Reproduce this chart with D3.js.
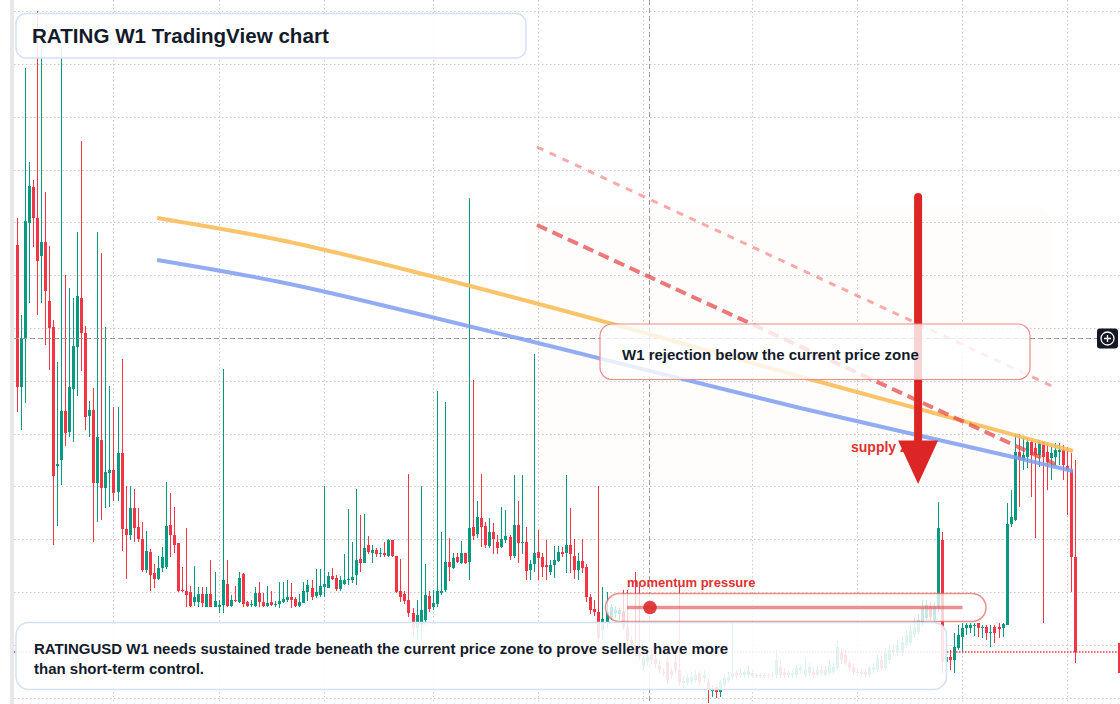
<!DOCTYPE html>
<html>
<head>
<meta charset="utf-8">
<script src="https://cdn.jsdelivr.net/npm/d3@7"></script>
<style>
  body { margin: 0; background: #fff; }
  svg  { display: block; }
</style>
</head>
<body>
<svg id="chart" width="1120" height="704"></svg>
<script>
// RATINGUSD weekly candles with the annotation layer of a TradingView screenshot.
// Prices are in chart units (the reference prints no price axis); one bar = one week.

// [open, high, low, close] per weekly bar, oldest first.
const ohlc = [
  [459,486,292,317],[317,389,274,366],[366,636,301,483],[481,542,401,518],[517,524,457,486],[486,693,389,443],[448,659,401,462],[462,512,359,413],
  [403,458,334,376],[377,384,159,228],[238,342,178,240],[244,657,219,293],[293,429,258,271],[272,416,267,317],[315,406,262,358],[357,472,308,408],
  [406,563,333,371],[371,378,274,287],[288,303,267,294],[294,316,162,221],[221,472,182,267],[264,451,184,216],[216,377,196,232],[231,318,197,234],
  [234,297,203,211],[212,297,203,251],[251,345,153,175],[175,218,125,169],[169,218,164,196],[196,215,162,176],[177,196,162,165],[165,182,132,134],
  [134,173,131,153],[152,155,113,129],[131,140,116,125],[125,148,124,136],[136,157,132,147],[137,222,135,178],[179,211,147,169],[169,197,151,159],
  [161,161,112,113],[114,137,112,113],[113,176,97,109],[112,118,97,98],[102,138,98,107],[102,117,97,110],[110,117,97,101],[97,117,97,110],
  [110,144,97,97],[97,132,97,103],[97,104,91,99],[99,335,91,124],[120,144,97,98],[98,109,97,104],[104,118,102,103],[102,132,101,126],
  [130,131,97,100],[102,103,97,98],[99,104,97,100],[98,117,97,111],[111,122,97,102],[102,111,97,98],[98,118,97,101],[102,113,98,99],
  [99,103,97,100],[100,122,96,103],[102,122,101,105],[104,124,102,107],[107,121,96,104],[105,107,97,98],[98,110,97,102],[101,122,101,113],
  [112,124,103,119],[116,124,104,107],[108,135,106,112],[109,135,107,118],[117,218,107,120],[116,132,116,128],[128,136,124,125],[126,129,113,115],
  [115,128,113,124],[120,150,119,124],[124,195,119,125],[124,162,121,127],[129,215,119,144],[145,189,132,141],[141,190,141,156],[159,168,150,152],
  [151,159,141,154],[154,156,147,150],[150,156,147,151],[151,162,147,149],[148,165,147,164],[164,164,147,148],[148,148,111,112],[113,145,102,107],
  [110,113,100,103],[104,230,87,91],[91,96,68,76],[76,104,64,89],[79,218,64,94],[84,140,79,109],[108,113,92,95],[97,114,94,101],
  [100,313,97,113],[111,172,109,113],[114,302,112,142],[142,166,123,137],[136,151,135,146],[147,151,141,142],[141,163,140,151],[151,151,140,141],
  [142,506,124,176],[177,324,164,168],[170,203,166,187],[186,230,157,177],[178,182,156,159],[158,186,156,172],[172,181,150,165],[162,169,150,156],
  [157,197,156,165],[164,194,161,168],[167,169,144,148],[148,229,146,179],[179,203,141,161],[161,229,150,162],[162,177,124,133],[134,144,124,140],
  [140,350,132,151],[152,174,124,146],[147,151,127,137],[139,164,124,137],[132,144,129,139],[139,158,126,144],[143,158,142,152],[152,157,147,150],
  [151,229,131,159],[159,196,131,150],[148,165,125,134],[134,151,124,143],[143,165,131,136],[137,140,102,107],[107,110,90,94],[95,104,88,92],
  [92,218,62,66],[74,117,64,85],[82,112,76,92],[87,100,84,97],[91,98,86,94],[90,97,84,94],[93,114,74,77],[77,114,59,64],
  [64,68,54,59],[59,132,48,52],[54,119,44,48],[38,52,34,46],[42,54,38,47],[50,56,40,44],[45,49,36,40],[39,44,30,34],
  [31,36,28,32],[42,54,20,24],[33,36,25,29],[42,49,31,34],[34,119,18,22],[21,28,16,23],[21,30,18,26],[22,32,20,27],
  [24,34,21,29],[31,34,18,22],[26,34,22,29],[22,26,1,14],[13,19,7,15],[17,20,6,12],[12,24,7,22],[19,30,17,26],
  [24,32,21,27],[27,81,24,31],[31,34,25,28],[29,36,26,31],[29,35,26,32],[29,38,26,34],[31,34,26,28],[28,31,26,29],
  [29,31,26,28],[28,31,26,29],[29,31,26,28],[28,32,26,29],[29,54,26,44],[37,44,26,29],[32,36,26,29],[29,34,26,31],
  [29,35,26,31],[29,39,26,36],[34,39,30,36],[29,46,27,34],[31,41,28,37],[32,36,26,29],[29,38,27,34],[34,38,28,31],
  [29,38,27,34],[31,44,29,39],[32,42,30,37],[36,64,34,57],[51,56,40,44],[49,54,38,41],[41,44,33,36],[37,41,29,32],
  [32,36,28,31],[32,35,27,30],[32,35,26,29],[29,39,27,36],[34,41,31,37],[34,50,32,46],[44,49,33,36],[36,56,34,51],
  [44,59,41,54],[51,60,48,54],[51,64,48,59],[51,68,48,62],[59,74,56,69],[61,80,58,74],[69,86,66,77],[72,90,69,84],
  [82,104,78,96],[86,104,84,99],[97,102,84,87],[84,101,81,97],[96,202,92,176],[164,172,31,42],[42,59,31,47],[47,54,34,44],
  [44,71,31,57],[56,79,54,69],[67,81,52,76],[76,81,69,79],[76,81,71,79],[78,81,68,79],[81,81,67,76],[76,79,66,77],
  [77,79,64,71],[71,79,57,72],[77,79,61,71],[77,81,66,75],[76,81,67,80],[79,201,79,180],[180,214,177,187],[184,270,183,252],
  [252,270,197,244],[244,266,234,249],[247,266,236,262],[262,264,207,249],[256,261,166,249],[249,264,237,262],[262,262,81,247],[252,261,214,242],
  [246,257,224,251],[247,261,239,254],[252,261,239,254],[254,259,224,239],[238,257,189,234],[234,251,112,147],[147,244,41,52]
];

// Time grid (bar index of each half-year line) and price grid levels.
const gridBars   = [24, 50, 76, 103, 129, 155, 182, 208, 234, 260];
const gridPrices = [693, 640, 587, 534, 482, 429, 376, 323, 270, 218, 165, 112, 59, 6];

// Two moving-average style curves, as [bar, price].
const maOrange = [[34.8,486],[65.2,464],[102.6,428],[132,397],[197.1,324],[261.4,253]];
const maBlue   = [[34.8,444],[65.2,422],[102.6,387],[132,358],[193.9,296],[246.6,247],[261.4,233]];

// Dashed descending rejection lines, as [bar, price].
const rejectUpper = [[128.8,557],[256.2,318]];
const rejectLower = [[128.8,479],[257,240]];

// Supply zone box: [barFrom, barTo], [priceLow, priceHigh].
const zoneBars   = [126.3, 256.2];
const zonePrices = [224, 497];

// Downward arrow: bar, shaft top price, head base price, tip price.
const arrowBar    = 223.1;
const arrowPrices = [507, 263.5, 220];

// Crosshair position.
const crossBar   = 156.6;
const crossPrice = 366;

const title     = "RATING W1 TradingView chart";
const noteLines = ["RATINGUSD W1 needs sustained trade beneath the current price zone to prove sellers have more",
                   "than short-term control."];
const calloutText  = "W1 rejection below the current price zone";
const momentumText = "momentum pressure";
const supplyText   = "supply zone";

// ---------------------------------------------------------------------------
const W = 1120, H = 704;
const UP = "#089981", DOWN = "#f23645";
const FONT = "'Liberation Sans', Arial, Helvetica, sans-serif";
const INK = "#131b2b";

const svg = d3.select("#chart");
const x = d3.scaleLinear().domain([0, ohlc.length - 1]).range([16.5, 1075.3]);
const y = d3.scaleLinear().domain([0, 704]).range([704, 0]);

svg.append("rect").attr("width", W).attr("height", H).attr("fill", "#fff");
svg.append("rect").attr("x", 10).attr("y", 0).attr("width", 4).attr("height", H).attr("fill", "#e8e8e8");

// 1. Dotted grid.
const grid = svg.append("g").attr("stroke", "#cdcdcd").attr("stroke-width", 1).attr("stroke-dasharray", "1.5 2.5");
grid.selectAll(null).data(gridBars).join("line")
  .attr("x1", d => Math.round(x(d)) + 0.5).attr("x2", d => Math.round(x(d)) + 0.5)
  .attr("y1", 0).attr("y2", H);
grid.selectAll(null).data(gridPrices).join("line")
  .attr("x1", 14).attr("x2", W)
  .attr("y1", d => Math.round(y(d)) + 0.5).attr("y2", d => Math.round(y(d)) + 0.5);

// 2. Supply zone shading (barely tinted, as in the reference).
svg.append("rect")
  .attr("x", x(zoneBars[0])).attr("y", y(zonePrices[1]))
  .attr("width", x(zoneBars[1]) - x(zoneBars[0]))
  .attr("height", y(zonePrices[0]) - y(zonePrices[1]))
  .attr("rx", 16)
  .attr("fill", "rgb(240,150,90)").attr("fill-opacity", 0.018);

// 3. Candles.
const candles = ohlc.map(([o, h, l, c], i) => ({
  i, o, c, h: Math.max(h, o, c), l: Math.min(l, o, c), up: c >= o
}));
const cg = svg.append("g");
cg.selectAll("line").data(candles).join("line")
  .attr("x1", d => Math.round(x(d.i)) + 0.5).attr("x2", d => Math.round(x(d.i)) + 0.5)
  .attr("y1", d => y(d.h)).attr("y2", d => y(d.l))
  .attr("stroke", d => d.up ? UP : DOWN).attr("stroke-width", 1);
cg.selectAll("rect").data(candles).join("rect")
  .attr("x", d => Math.round(x(d.i)) - 1)
  .attr("width", 3)
  .attr("y", d => y(Math.max(d.o, d.c)))
  .attr("height", d => Math.max(1, Math.abs(y(d.o) - y(d.c))))
  .attr("fill", d => d.up ? UP : DOWN);

// 4. Last price line.
const last = candles[candles.length - 1].c;
svg.append("line")
  .attr("x1", 14).attr("x2", W).attr("y1", y(last)).attr("y2", y(last))
  .attr("stroke", DOWN).attr("stroke-width", 1.5).attr("stroke-dasharray", "1.5 1.5");

// 5. Crosshair.
const ch = svg.append("g").attr("stroke", "#9a9a9a").attr("stroke-width", 1).attr("stroke-dasharray", "5 3");
ch.append("line").attr("x1", Math.round(x(crossBar)) + 0.5).attr("x2", Math.round(x(crossBar)) + 0.5)
  .attr("y1", 0).attr("y2", H);
ch.append("line").attr("x1", 14).attr("x2", 1097)
  .attr("y1", Math.round(y(crossPrice)) + 0.5).attr("y2", Math.round(y(crossPrice)) + 0.5);

// 6. Moving-average curves.
const curve = d3.line().x(d => x(d[0])).y(d => y(d[1])).curve(d3.curveMonotoneX);
svg.append("path").attr("d", curve(maOrange)).attr("fill", "none")
  .attr("stroke", "#fbbd5a").attr("stroke-opacity", 0.9).attr("stroke-width", 4);
svg.append("path").attr("d", curve(maBlue)).attr("fill", "none")
  .attr("stroke", "#7f9ef2").attr("stroke-opacity", 0.85).attr("stroke-width", 4);

// 7. Dashed rejection lines.
const straight = d3.line().x(d => x(d[0])).y(d => y(d[1]));
svg.append("path").attr("d", straight(rejectUpper)).attr("fill", "none")
  .attr("stroke", "#ef4444").attr("stroke-opacity", 0.45).attr("stroke-width", 3)
  .attr("stroke-dasharray", "7 7");
svg.append("path").attr("d", straight(rejectLower)).attr("fill", "none")
  .attr("stroke", "#e53e3e").attr("stroke-opacity", 0.7).attr("stroke-width", 4)
  .attr("stroke-dasharray", "11 6");

// 8. Supply zone label, then the arrow drawn over it.
svg.append("text").attr("x", 851).attr("y", 452)
  .attr("font-family", FONT).attr("font-weight", 700).attr("font-size", 14)
  .attr("fill", "#e03131").text(supplyText);

const ax = x(arrowBar);
svg.append("line")
  .attr("x1", ax).attr("x2", ax).attr("y1", y(arrowPrices[0])).attr("y2", y(arrowPrices[1]) + 2)
  .attr("stroke", "#dc2626").attr("stroke-width", 8).attr("stroke-linecap", "round");
svg.append("polygon")
  .attr("points", [[ax - 20, y(arrowPrices[1])], [ax + 20, y(arrowPrices[1])], [ax, y(arrowPrices[2])]].join(" "))
  .attr("fill", "#dc2626");

// 9. Rejection callout box.
svg.append("rect").attr("x", 600).attr("y", 324).attr("width", 430).attr("height", 55.5).attr("rx", 12)
  .attr("fill", "#fff").attr("fill-opacity", 0.8)
  .attr("stroke", "#ee8a8a").attr("stroke-width", 1.2);
svg.append("text").attr("x", 622).attr("y", 359.5)
  .attr("font-family", FONT).attr("font-weight", 700).attr("font-size", 15)
  .attr("fill", INK).text(calloutText);

// 10. Momentum pressure pill.
svg.append("text").attr("x", 627).attr("y", 587)
  .attr("font-family", FONT).attr("font-weight", 700).attr("font-size", 13)
  .attr("fill", "#e03131").text(momentumText);
svg.append("rect").attr("x", 605.5).attr("y", 593.5).attr("width", 380.5).attr("height", 28).attr("rx", 14)
  .attr("fill", "#fff").attr("fill-opacity", 0.78)
  .attr("stroke", "#e55b5b").attr("stroke-opacity", 0.7).attr("stroke-width", 1.5);
svg.append("line").attr("x1", 627).attr("x2", 962.5).attr("y1", 607.5).attr("y2", 607.5)
  .attr("stroke", "#e04848").attr("stroke-opacity", 0.6).attr("stroke-width", 3.5);
svg.append("circle").attr("cx", 650).attr("cy", 607.5).attr("r", 6.8)
  .attr("fill", "#dc2f2f").attr("fill-opacity", 0.92);

// 11. Bottom note.
svg.append("rect").attr("x", 16).attr("y", 622.5).attr("width", 930.5).attr("height", 67).attr("rx", 13)
  .attr("fill", "#fff").attr("fill-opacity", 0.88)
  .attr("stroke", "#d3e1f5").attr("stroke-width", 1.5);
svg.append("text")
  .attr("font-family", FONT).attr("font-weight", 700).attr("font-size", 15).attr("fill", INK)
  .selectAll("tspan").data(noteLines).join("tspan")
  .attr("x", 34).attr("y", (d, i) => 654 + i * 19.5).text(d => d);

// 12. Title.
svg.append("rect").attr("x", 16).attr("y", 13.5).attr("width", 510).attr("height", 44.5).attr("rx", 10)
  .attr("fill", "#fff").attr("fill-opacity", 0.88)
  .attr("stroke", "#d3e1f5").attr("stroke-width", 1.5);
svg.append("text").attr("x", 32).attr("y", 43.3)
  .attr("font-family", FONT).attr("font-weight", 700).attr("font-size", 20.6)
  .attr("fill", INK).text(title);

// 13. Right-edge crosshair handle and price marker.
const cy = Math.round(y(crossPrice)) + 0.5;
svg.append("rect").attr("x", 1097).attr("y", cy - 10).attr("width", 21).attr("height", 20).attr("rx", 3)
  .attr("fill", "#131722");
svg.append("circle").attr("cx", 1107.5).attr("cy", cy).attr("r", 6.5)
  .attr("fill", "none").attr("stroke", "#fff").attr("stroke-width", 1.3);
svg.append("path").attr("d", `M1104,${cy}H1111M1107.5,${cy - 3.5}V${cy + 3.5}`)
  .attr("stroke", "#fff").attr("stroke-width", 1.3);
svg.append("rect").attr("x", 1118).attr("y", y(last) - 9).attr("width", 2).attr("height", 30)
  .attr("fill", DOWN);
</script>
</body>
</html>
